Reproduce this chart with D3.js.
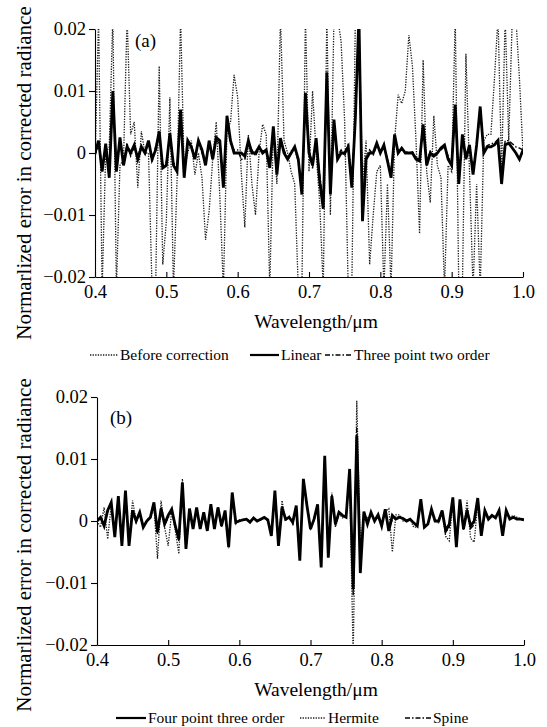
<!DOCTYPE html>
<html>
<head>
<meta charset="utf-8">
<script src="https://cdn.jsdelivr.net/npm/d3@7"></script>
<style>
  body { margin: 0; background: #fff; }
  svg { display: block; }
  svg text { font-family: "Liberation Serif", "DejaVu Serif", serif; }
</style>
</head>
<body>
<script>
// wavelength grid (µm)
const wavelength = [
  0.400,0.405,0.410,0.415,0.420,0.425,0.430,0.435,0.440,0.445,
  0.450,0.455,0.460,0.465,0.470,0.475,0.480,0.485,0.490,0.495,
  0.500,0.505,0.510,0.515,0.520,0.525,0.530,0.535,0.540,0.545,
  0.550,0.555,0.560,0.565,0.570,0.575,0.580,0.585,0.590,0.595,
  0.600,0.605,0.610,0.615,0.620,0.625,0.630,0.635,0.640,0.645,
  0.650,0.655,0.660,0.665,0.670,0.675,0.680,0.685,0.690,0.695,
  0.700,0.705,0.710,0.715,0.720,0.725,0.730,0.735,0.740,0.745,
  0.750,0.755,0.760,0.765,0.770,0.775,0.780,0.785,0.790,0.795,
  0.800,0.805,0.810,0.815,0.820,0.825,0.830,0.835,0.840,0.845,
  0.850,0.855,0.860,0.865,0.870,0.875,0.880,0.885,0.890,0.895,
  0.900,0.905,0.910,0.915,0.920,0.925,0.930,0.935,0.940,0.945,
  0.950,0.955,0.960,0.965,0.970,0.975,0.980,0.985,0.990,0.995,
  1.000
];

// normalized error, read off in units of 1e-3
// panel (a)
const beforeCorrection = [
  -2, 22, -22, 0, 1, 22, -22, -2, -1, 22,
  3, 5, -5.6, 3.5, 0, 0, -22, -22, 14, -18,
  -11, 9, -22, -4.6, 22, -3, 0, 2, -3.5, 0,
  -4, -14, -9.4, -1, 5, -7, -22, 3.5, 5, 12.6,
  9, -3, -12, 3, -5, -10, 0, 4.6, 3, -22,
  4, -5, 22, 2, 0, -3, -5, -22, -22, 22,
  -3, 10, 0, -8, -22, 22, -10, 22, 22, 18,
  5, -22, -22, 22, 22, -5, 2, -18, -10, -3,
  -2, -22, -5, -22, 2, 9.4, 8, 10, 19, 14,
  2, -13, 15, -3, -8, 6, -2, -4, -22, -2,
  -3, 22, -22, -22, 16, -3, -22, -5, -22, 2,
  3, 3, 12, 22, -3, 22, 2, 22, 22, 12,
  0
];
const linear = [
  0, 2, -3, 1.5, -4, 10, -3, 2.5, -2, 1,
  0, 1.3, -1, 1, 0, 2, -1, 0.5, 3.5, -2.4,
  -2, 3.2, -2, -3, 7, -4, 2, 1, -1, 2,
  0.5, -2, 2, -1, 2.5, 2, -5.6, 6, 2, 0,
  0, 0, -0.5, 2, 0, 0, 1, 0, 0.5, -2.4,
  4.3, -3.5, 2.4, 0, -1, 0, 1, -1, -6.7, 9.7,
  0, -2, 2.4, -4.6, -9, 13, -6.7, 5.4, -1, 0,
  0, 1, -5.6, 5.6, 22, -11, -1, 0, 0, 1.6,
  0, 1.3, -1.3, -4, 3, 0, 0.8, 0, 0, 0,
  -1, -1.3, 4.6, -2, 0, -0.5, 0, 0.8, 1.3, -1,
  -2, 7.8, -5, 3, -1, 1.3, -3.5, 1.3, 7.5, 0,
  1, 1, 1.3, 2, -5, 1.3, 1.6, 0.8, 0, -1,
  0.5
];
const threePointTwoOrder = [
  -0.5, 1.5, -2, 1, -3, 8, -2, 2, -1.5, 1.5,
  -0.5, 1, -0.5, 1.2, 0, 1.5, -1.5, 1, 3, -2,
  -1.5, 2.8, -1.5, -2.5, 6, -3.5, 1.5, 1.2, -0.5, 1.5,
  0, -1.5, 1.8, -0.5, 2, 1.5, -4.5, 5, 1.5, 0.5,
  0.5, -1, -1, 1.5, 0.5, -0.5, 0.8, 0.3, 0.5, -2,
  3.5, -3, 2, 0.5, -0.8, 0.3, 0.8, -1.5, -5.5, 8,
  1, -2.5, 2, -3.5, -8, 11, -5.5, 4.5, -0.5, 0.5,
  -0.5, 1.5, -4.5, 6, 20, -9, -0.5, 0.5, -0.3, 1.2,
  0.3, 1, -1, -3, 2.5, 0.3, 0.5, 0.3, 0, 0.2,
  -0.8, -1, 4, -1.5, 0.3, -0.3, 0.2, 0.5, 1, -0.5,
  -1.5, 6.5, -4, 2.5, -0.5, 1, -2.5, 1, 6.5, 0.5,
  1.2, 1.5, 1.6, 2.2, -3, 2, 2, 1.5, 1, 0.8,
  0.5
];
// panel (b)
const fourPointThreeOrder = [
  0, 0.6, -0.8, 1.7, 3, -2.6, 4, -4, 4.9, -4,
  1.7, 0, 1.4, -1, 0, 0.6, 3, -1.8, 2, -0.5,
  0.9, 1.9, -0.8, -2.9, 6.2, -4.5, 2, -1.3, 2.2, -1.3,
  1.4, -1.6, 2.7, -1.3, 2.2, -0.8, 1.7, -4.2, 4.6, -0.2,
  0, 0.2, 0.3, -0.2, 0.5, 0, 0.3, 0.6, 0.2, -2.4,
  4.9, -4, 2.2, 0.3, 0.6, -0.2, 2.5, -6.4, 6.8, 2.5,
  -1.3, 0.3, 2.7, -7.5, 10.5, -5.9, 4, -0.5, 1.4, 0.9,
  0.6, 8.4, -11, 13.8, -8.4, 1.5, -0.5, 1.4, 0, 1,
  -0.8, 1.9, -1.6, 0.9, 0.3, 0.6, 0.4, 0, 0.3, -0.3,
  -0.8, 3.5, -1, -0.5, 1.9, 0, 0, 1.7, -1.6, -0.5,
  3.8, -4.2, 3.5, -1.3, 1.7, -0.8, 0, 3.7, -2.4, 1.7,
  0.3, 0.9, 0.5, 1.7, -2.4, 1.7, 0.3, 0.6, 0.3, 0.3,
  0.2
];
const hermite = [
  0, -1, 2.2, -2.9, 2.5, -2, 3.5, -3.5, 4, -3,
  3.3, 0, 1, -1, 0, 0.5, 2.5, -6.1, 3.3, -1,
  -4, 1.5, -1.5, -5.3, 6.8, -4, 1.5, -1, 2, -1,
  1.2, -1.4, 2.4, -1.2, 2, -1, 1.5, -4.4, 4.2, -0.5,
  0.2, 0, 0.4, 0, 0.3, 0.2, 0.1, 0.5, 0, -2,
  4.5, -3.5, 3.3, 0, 0.8, -0.5, 2.2, -5.8, 6.2, 2.8,
  -1, 0, 2.4, -6.8, 9.5, -5.2, 4.6, -1, 1.2, 0.5,
  0.8, 7, -22, 19.4, -4, 1, 0.5, 1, 0.3, 0.5,
  -0.5, 1.5, 2, -5, 1, 1, 0, 0, 0.3, -1,
  -1, 3, -1, -0.5, 1.5, 0, -0.3, 1.2, -2.5, -3.2,
  3, -3.5, 2.5, -1.5, 3.3, -2.8, -3.4, 2.8, -2, 1.4,
  0.3, 0.8, 0.6, 1.4, -2, 1.5, 0.6, 0.9, 0.6, 0.4,
  0.3
];
const spine = [
  0, 0.4, -0.5, 1.5, 2.7, -2.3, 3.7, -3.6, 4.5, -3.7,
  1.9, -0.2, 1.2, -0.8, 0.2, 0.5, 2.7, -2.2, 2.2, -0.6,
  0.5, 1.7, -0.9, -3.2, 5.8, -4.2, 1.8, -1.1, 2, -1.2,
  1.2, -1.5, 2.5, -1.1, 2, -0.7, 1.5, -4, 4.3, -0.3,
  0.1, 0.1, 0.3, -0.1, 0.4, 0.1, 0.2, 0.5, 0.1, -2.2,
  4.6, -3.8, 2.4, 0.2, 0.6, -0.3, 2.3, -6, 6.4, 2.6,
  -1.2, 0.2, 2.5, -7, 10, -5.6, 4.2, -0.7, 1.3, 0.7,
  0.7, 8, -12, 15, -7, 1.3, -0.2, 1.2, 0.1, 0.8,
  -0.7, 1.7, -1.2, 0.2, 0.5, 0.7, 0.3, 0.1, 0.3, -0.4,
  -0.7, 3.3, -1, -0.4, 1.8, 0, -0.1, 1.5, -1.8, -1,
  3.5, -4, 3.2, -1.3, 2, -1.2, -0.6, 3.4, -2.3, 1.6,
  0.3, 0.9, 0.6, 1.6, -2.3, 1.6, 0.4, 0.7, 0.4, 0.3,
  0.2
];

const xTicks = [0.4, 0.5, 0.6, 0.7, 0.8, 0.9, 1.0];
const xTickLabels = ["0.4", "0.5", "0.6", "0.7", "0.8", "0.9", "1.0"];
const yTicks = [-0.02, -0.01, 0, 0.01, 0.02];
const yTickLabels = ["\u22120.02", "\u22120.01", "0", "0.01", "0.02"];

const FONT = "'Liberation Serif', 'DejaVu Serif', serif";

const styles = {
  dotted:  { width: 1.3, dash: "1.3,1.3", color: "#1a1a1a" },
  solid:   { width: 2.8, dash: null, color: "#000" },
  dashdot: { width: 1.4, dash: "5,2,1.5,2", color: "#000" }
};

const svg = d3.select("body").append("svg")
  .attr("width", 547)
  .attr("height", 727)
  .attr("font-family", FONT);

function drawPanel(p) {
  const x = d3.scaleLinear().domain([0.4, 1.0]).range([p.left, p.right]);
  const y = d3.scaleLinear().domain([-0.02, 0.02]).range([p.bottom, p.top]);
  const g = svg.append("g");

  const clipId = "clip-" + p.id;
  g.append("clipPath").attr("id", clipId)
    .append("rect")
    .attr("x", p.left).attr("y", p.top)
    .attr("width", p.right - p.left).attr("height", p.bottom - p.top);

  const line = vals => d3.line()
    .x((d, i) => x(wavelength[i]))
    .y((d, i) => y(vals[i] / 1000))(vals);

  g.append("g").attr("clip-path", "url(#" + clipId + ")")
    .selectAll("path")
    .data(p.series)
    .enter()
    .append("path")
    .attr("d", s => line(s.values))
    .attr("fill", "none")
    .attr("stroke", s => styles[s.style].color)
    .attr("stroke-width", s => styles[s.style].width)
    .attr("stroke-dasharray", s => styles[s.style].dash)
    .attr("stroke-linejoin", "miter");

  // axes
  const xAxis = g.append("g")
    .attr("transform", "translate(0," + p.bottom + ")")
    .call(d3.axisBottom(x).tickValues(xTicks)
      .tickFormat((d, i) => xTickLabels[i])
      .tickSizeInner(-5).tickSizeOuter(0).tickPadding(8));
  const yAxis = g.append("g")
    .attr("transform", "translate(" + p.left + ",0)")
    .call(d3.axisLeft(y).tickValues(yTicks)
      .tickFormat((d, i) => yTickLabels[i])
      .tickSizeInner(6).tickSizeOuter(0).tickPadding(3));
  [xAxis, yAxis].forEach(a => {
    a.attr("font-family", FONT).attr("font-size", 18.5);
    a.selectAll("path, line").attr("stroke", "#000").attr("stroke-width", 1.1);
    a.selectAll("text").attr("fill", "#000");
  });

  g.append("text")
    .attr("x", p.labelX).attr("y", p.labelY)
    .attr("font-size", 19)
    .text(p.label);

  g.append("text")
    .attr("x", 316).attr("y", p.bottom + 51)
    .attr("text-anchor", "middle")
    .attr("font-size", 19.5)
    .text("Wavelength/\u03bcm");

  g.append("text")
    .attr("transform", "translate(31," + p.yTitleY + ") rotate(-90)")
    .attr("text-anchor", "middle")
    .attr("font-size", 21)
    .text("Normarlized error in corrected radiance");

  // legend
  const lg = g.append("g").selectAll("g")
    .data(p.legend)
    .enter().append("g");
  lg.append("line")
    .attr("x1", d => d.x0).attr("x2", d => d.x1)
    .attr("y1", p.legendY - 5).attr("y2", p.legendY - 5)
    .attr("stroke", d => styles[d.style].color)
    .attr("stroke-width", d => d.style === "solid" ? 2.2 : styles[d.style].width)
    .attr("stroke-dasharray", d => styles[d.style].dash);
  lg.append("text")
    .attr("x", d => d.x1 + 2).attr("y", p.legendY)
    .attr("font-size", 15.5)
    .text(d => d.name);
}

drawPanel({
  id: "a", left: 95, right: 523, top: 29, bottom: 277,
  label: "(a)", labelX: 135, labelY: 47, yTitleY: 173, legendY: 360,
  series: [
    { values: beforeCorrection, style: "dotted" },
    { values: threePointTwoOrder, style: "dashdot" },
    { values: linear, style: "solid" }
  ],
  legend: [
    { name: "Before correction", style: "dotted", x0: 90, x1: 118 },
    { name: "Linear", style: "solid", x0: 250, x1: 279 },
    { name: "Three point two order", style: "dashdot", x0: 325, x1: 352 }
  ]
});

drawPanel({
  id: "b", left: 97, right: 524, top: 397, bottom: 645,
  label: "(b)", labelX: 110, labelY: 424, yTitleY: 545, legendY: 723,
  series: [
    { values: hermite, style: "dotted" },
    { values: spine, style: "dashdot" },
    { values: fourPointThreeOrder, style: "solid" }
  ],
  legend: [
    { name: "Four point three order", style: "solid", x0: 116, x1: 146 },
    { name: "Hermite", style: "dotted", x0: 300, x1: 326 },
    { name: "Spine", style: "dashdot", x0: 405, x1: 431 }
  ]
});
</script>
</body>
</html>
